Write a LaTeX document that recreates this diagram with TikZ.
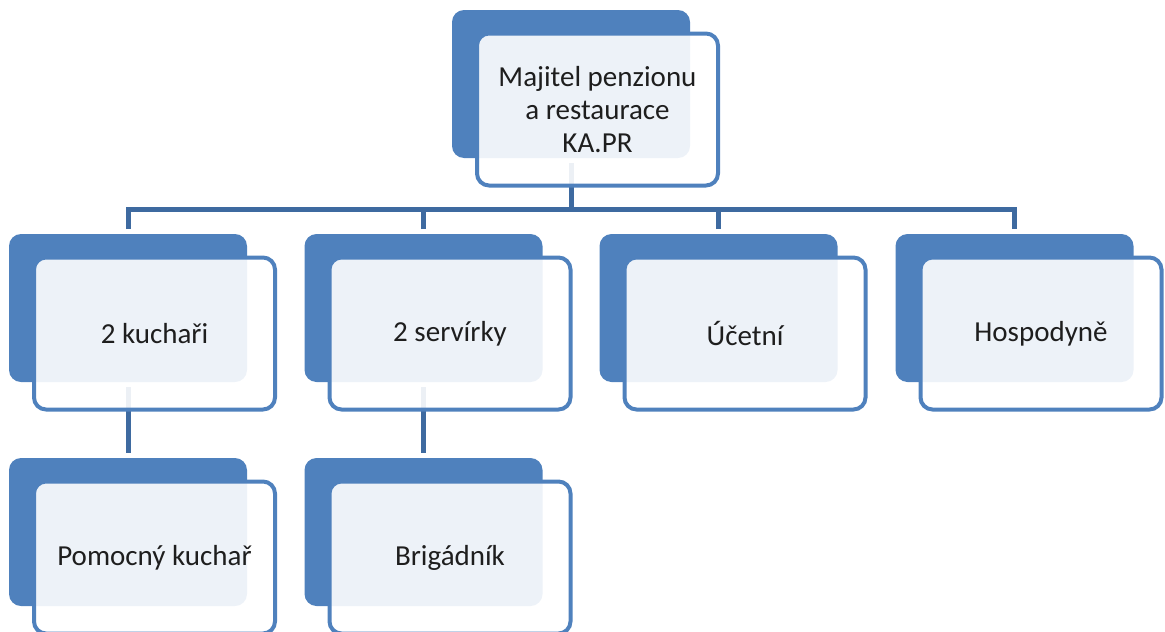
\documentclass[tikz,border=0pt]{standalone}
\usepackage{fontspec}
\setmainfont{Carlito}
\usetikzlibrary{calc}
\definecolor{accent}{RGB}{79,129,189}
\definecolor{connblue}{RGB}{62,106,160}
\definecolor{textc}{RGB}{30,30,30}
\begin{document}
\begin{tikzpicture}[x=1pt,y=-1pt,
  back/.style={fill=accent, rounded corners=12pt, minimum width=238pt, minimum height=148pt, inner sep=0pt, outer xsep=0pt, outer ysep=5pt},
  front/.style={draw=accent, line width=4pt, fill=white, fill opacity=0.9, text opacity=1, rounded corners=12pt, minimum width=241pt, minimum height=152pt, inner sep=0pt, align=center, font=\fontsize{29}{33}\selectfont, text=textc},
  conn/.style={draw=connblue, line width=5pt}]
\useasboundingbox (0,0) rectangle (1165,632);
% back rectangles
\node[back] (b0) at (571,84) {};
\node[back] (b1) at (128,308) {};
\node[back] (b2) at (423.5,308) {};
\node[back] (b3) at (718.5,308) {};
\node[back] (b4) at (1014.5,308) {};
\node[back] (b5) at (128,532) {};
\node[back] (b6) at (423.5,532) {};
% connectors
\coordinate (bus) at (571,209);
\draw[conn] (b0.south) -- (b0.south |- bus);
\draw[conn] (b1.north) |- (bus) -| (b4.north);
\draw[conn] (b2.north) -- (b2.north |- bus);
\draw[conn] (b3.north) -- (b3.north |- bus);
\draw[conn] (b1.south) -- (b5.north);
\draw[conn] (b2.south) -- (b6.north);
% front boxes
\node[front] (f0) at ($(b0)+(26.5,25.5)$) {Majitel penzionu\\a restaurace\\KA.PR};
\node[front] (f1) at ($(b1)+(26.5,25.5)$) {2 kuchaři};
\node[front] (f2) at ($(b2)+(26.5,25.5)$) {2 servírky};
\node[front] (f3) at ($(b3)+(26.5,25.5)$) {Účetní};
\node[front] (f4) at ($(b4)+(26.5,25.5)$) {Hospodyně};
\node[front] (f5) at ($(b5)+(26.5,25.5)$) {Pomocný kuchař};
\node[front] (f6) at ($(b6)+(26.5,25.5)$) {Brigádník};
\end{tikzpicture}
\end{document}
